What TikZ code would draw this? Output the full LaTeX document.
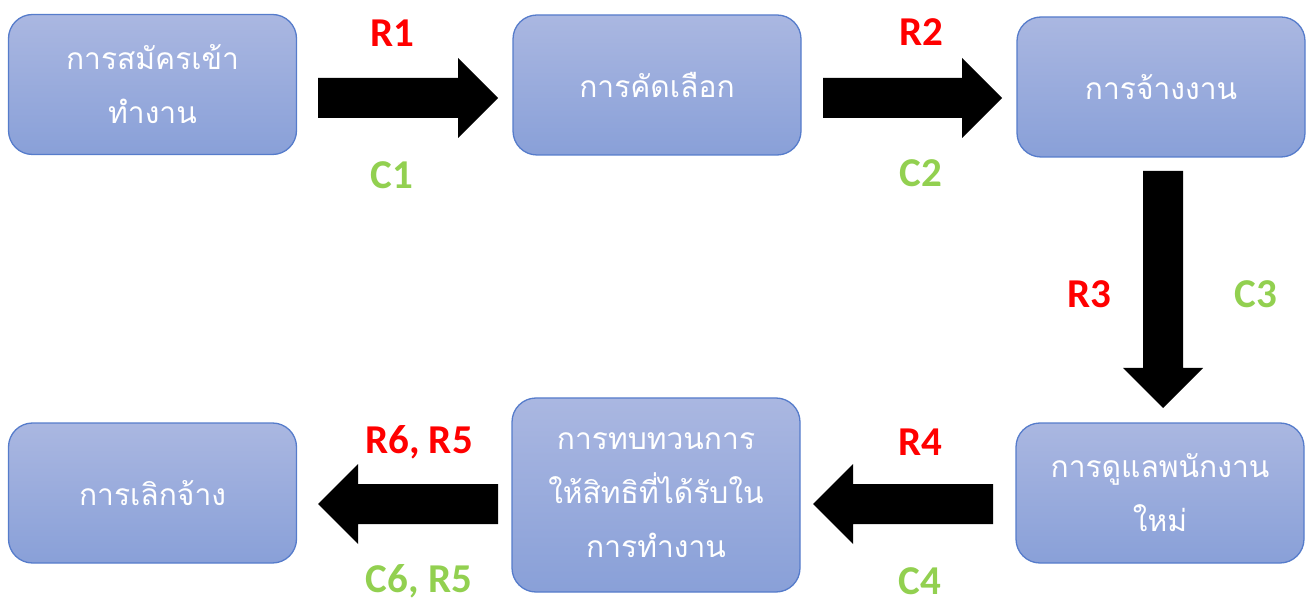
\documentclass[tikz,border=0pt]{standalone}
\usepackage{fontspec}
\setmainfont{Carlito}
\newfontfamily\thaifont[Script=Thai]{Loma}
\usetikzlibrary{calc}

\definecolor{boxtop}{RGB}{170,183,225}
\definecolor{boxbot}{RGB}{137,160,216}
\definecolor{boxline}{RGB}{86,124,203}
\definecolor{rlabel}{RGB}{255,0,0}
\definecolor{clabel}{RGB}{146,208,80}

\tikzset{
  stage/.style={rectangle, rounded corners=24pt, draw=boxline, line width=1.3pt,
    top color=boxtop, bottom color=boxbot, minimum width=288pt, minimum height=140pt,
    align=center, text=white, inner sep=0pt,
    font=\thaifont\fontsize{30}{54}\selectfont},
  rtag/.style={text=rlabel, inner sep=0pt, font=\fontsize{41}{42}\selectfont\bfseries},
  ctag/.style={text=clabel, inner sep=0pt, font=\fontsize{41}{42}\selectfont\bfseries},
  blockfill/.style={fill=black}
}

% thick block arrow from #1 (tail) to #2 (tip)
\newcommand\blockarrow[2]{%
  \path ($(#2)!40pt!(#1)$) coordinate (hb);
  \fill[blockfill]
    ($(#1)!20pt!90:(#2)$) -- ($(hb)!20pt!-90:(#1)$) -- ($(hb)!40pt!-90:(#1)$) --
    (#2) -- ($(hb)!40pt!90:(#1)$) -- ($(hb)!20pt!90:(#1)$) --
    ($(#1)!20pt!-90:(#2)$) -- cycle;}

\begin{document}
\begin{tikzpicture}[x=1pt, y=-1pt]
  \useasboundingbox (0,0) rectangle (1309,601);

  % process stages
  \node[stage] (apply)   at (152.5,84.5) {การสมัครเข้า\\ทำงาน};
  \node[stage] (select)  at (657,85)     {การคัดเลือก};
  \node[stage] (hire)    at (1161,87)    {การจ้างงาน};
  \node[stage] (onboard) at (1160,493)   {การดูแลพนักงาน\\ใหม่};
  \node[stage, minimum height=194pt] (review) at (656,495)
        {การทบทวนการ\\ให้สิทธิที่ได้รับใน\\การทำงาน};
  \node[stage] (leave)   at (152.5,493)  {การเลิกจ้าง};

  % arrow end points
  \coordinate (a1s) at (318,98);   \coordinate (a1e) at (498,98);
  \coordinate (a2s) at (823,98);   \coordinate (a2e) at (1002,98);
  \coordinate (a3s) at (1163,171); \coordinate (a3e) at (1163,408);
  \coordinate (a4s) at (993,504);  \coordinate (a4e) at (813,504);
  \coordinate (a5s) at (498,504);  \coordinate (a5e) at (318,504);

  \blockarrow{a1s}{a1e}
  \blockarrow{a2s}{a2e}
  \blockarrow{a3s}{a3e}
  \blockarrow{a4s}{a4e}
  \blockarrow{a5s}{a5e}

  % labels
  \node[rtag] (r1) at (392,33)   {R1};
  \node[ctag] (c1) at (392,175)  {C1};
  \node[rtag] (r2) at (921,32)   {R2};
  \node[ctag] (c2) at (921,173)  {C2};
  \node[rtag] (r3) at (1089,294) {R3};
  \node[ctag] (c3) at (1256,294) {C3};
  \node[rtag] (r4) at (920,442)  {R4};
  \node[ctag] (c4) at (920,581)  {C4};
  \node[rtag] (r65) at (419,442) {R6, R5};
  \node[ctag] (c65) at (419,581) {C6, R5};
\end{tikzpicture}
\end{document}
